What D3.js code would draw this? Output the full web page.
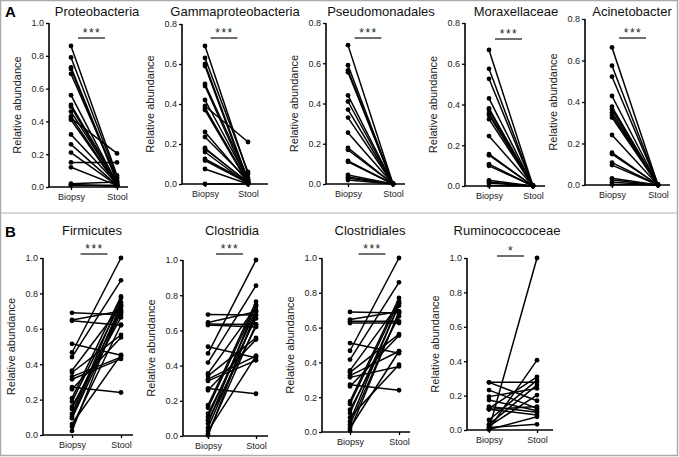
<!DOCTYPE html>
<html>
<head>
<meta charset="utf-8">
<script src="https://cdn.jsdelivr.net/npm/d3@7"></script>
<style>
  body { margin: 0; background: #fff; }
  svg { display: block; font-family: "Liberation Sans", Arial, sans-serif; }
</style>
</head>
<body>
<div id="chart"></div>
<script>
// Data, one pair of arrays per panel (biopsy value i is paired with stool value i)
const groups = ["Biopsy", "Stool"];

const proteoBiopsy = [0.86, 0.79, 0.73, 0.72, 0.69, 0.56, 0.50, 0.49, 0.46, 0.43, 0.42, 0.41, 0.32, 0.26, 0.21, 0.15, 0.12, 0.02, 0.015, 0.01];
const proteoStool  = [0.07, 0.06, 0.04, 0.03, 0.05, 0.02, 0.03, 0.01, 0.02, 0.01, 0.205, 0.01, 0.02, 0.01, 0.01, 0.15, 0.01, 0.03, 0.005, 0.01];

const gammaBiopsy = [0.69, 0.63, 0.60, 0.59, 0.50, 0.49, 0.42, 0.39, 0.38, 0.37, 0.26, 0.235, 0.18, 0.175, 0.16, 0.125, 0.117, 0.075, 0.0];
const gammaStool  = [0.05, 0.06, 0.02, 0.01, 0.03, 0.01, 0.02, 0.21, 0.01, 0.005, 0.01, 0.02, 0.005, 0.01, 0.0, 0.01, 0.005, 0.0, 0.0];

const pseudoBiopsy = [0.69, 0.59, 0.565, 0.555, 0.44, 0.41, 0.37, 0.33, 0.255, 0.18, 0.17, 0.115, 0.11, 0.045, 0.035, 0.03, 0.02];
const pseudoStool  = [0, 0, 0, 0, 0, 0, 0, 0, 0, 0, 0, 0, 0, 0, 0, 0, 0];

const moraxBiopsy = [0.668, 0.575, 0.526, 0.43, 0.381, 0.373, 0.356, 0.348, 0.328, 0.245, 0.156, 0.151, 0.107, 0.099, 0.028, 0.02, 0.015, 0.003];
const moraxStool  = [0, 0, 0, 0, 0, 0, 0, 0, 0, 0, 0, 0, 0, 0, 0, 0, 0, 0];

const acinetoBiopsy = [0.663, 0.575, 0.522, 0.429, 0.377, 0.365, 0.349, 0.337, 0.325, 0.241, 0.156, 0.149, 0.108, 0.096, 0.032, 0.024, 0.013, 0.003];
const acinetoStool  = [0, 0, 0, 0, 0, 0, 0, 0, 0, 0, 0, 0, 0, 0, 0, 0, 0, 0];

const firmiBiopsy = [0.69, 0.65, 0.645, 0.515, 0.466, 0.44, 0.364, 0.353, 0.33, 0.315, 0.27, 0.258, 0.208, 0.189, 0.16, 0.147, 0.119, 0.104, 0.094, 0.062, 0.047, 0.023];
const firmiStool  = [0.68, 0.70, 0.62, 0.45, 1.0, 0.874, 0.73, 0.566, 0.44, 0.43, 0.24, 0.551, 0.783, 0.749, 0.664, 0.708, 0.774, 0.736, 0.694, 0.453, 0.623, 0.726];

const clostBiopsy = [0.69, 0.645, 0.636, 0.63, 0.507, 0.469, 0.417, 0.355, 0.342, 0.323, 0.313, 0.27, 0.26, 0.175, 0.16, 0.127, 0.108, 0.089, 0.07, 0.046, 0.028, 0.013, 0.004];
const clostStool  = [0.687, 0.706, 0.634, 0.62, 0.444, 1.0, 0.854, 0.734, 0.558, 0.455, 0.43, 0.24, 0.548, 0.763, 0.744, 0.668, 0.715, 0.62, 0.744, 0.687, 0.455, 0.634, 0.706];

const clostaleBiopsy = [0.69, 0.646, 0.636, 0.626, 0.511, 0.467, 0.416, 0.354, 0.343, 0.324, 0.314, 0.272, 0.262, 0.176, 0.161, 0.128, 0.109, 0.084, 0.061, 0.042, 0.023, 0.008];
const clostaleStool  = [0.684, 0.693, 0.636, 0.626, 0.452, 1.0, 0.86, 0.738, 0.563, 0.464, 0.377, 0.24, 0.554, 0.77, 0.751, 0.665, 0.726, 0.387, 0.738, 0.684, 0.464, 0.693];

const rumiBiopsy = [0.277, 0.277, 0.232, 0.194, 0.174, 0.136, 0.126, 0.12, 0.12, 0.058, 0.033, 0.023, 0.015, 0.006, 0.006, 0.003];
const rumiStool  = [0.277, 0.17, 0.126, 0.242, 0.112, 0.103, 0.309, 0.087, 0.136, 0.29, 0.261, 0.203, 0.033, 1.0, 0.406, 0.077];

// Panel layout (pixel frame for each small chart)
const panels = [
  { title: "Proteobacteria", b: proteoBiopsy, s: proteoStool, max: 1.0, sig: "***",
    ax: 49, top: 23, bot: 187, bx: 71, sx: 117, end: 128, ty: 16, tx: 97, sy: 38 },
  { title: "Gammaproteobacteria", b: gammaBiopsy, s: gammaStool, max: 0.8, sig: "***",
    ax: 182, top: 24, bot: 184, bx: 205, sx: 248, end: 268, ty: 16, tx: 235, sy: 38 },
  { title: "Pseudomonadales", b: pseudoBiopsy, s: pseudoStool, max: 0.8, sig: "***",
    ax: 326, top: 23, bot: 184, bx: 348, sx: 393, end: 405, ty: 16, tx: 381, sy: 38 },
  { title: "Moraxellaceae", b: moraxBiopsy, s: moraxStool, max: 0.8, sig: "***",
    ax: 465, top: 23, bot: 186, bx: 489, sx: 533, end: 545, ty: 16, tx: 516, sy: 39 },
  { title: "Acinetobacter", b: acinetoBiopsy, s: acinetoStool, max: 0.8, sig: "***",
    ax: 585, top: 19, bot: 185, bx: 612, sx: 658, end: 670, ty: 16, tx: 632, sy: 38 },
  { title: "Firmicutes", b: firmiBiopsy, s: firmiStool, max: 1.0, sig: "***",
    ax: 43, top: 258, bot: 435, bx: 72, sx: 121, end: 133, ty: 235, tx: 92, sy: 254 },
  { title: "Clostridia", b: clostBiopsy, s: clostStool, max: 1.0, sig: "***",
    ax: 183, top: 260, bot: 436, bx: 208, sx: 256, end: 268, ty: 235, tx: 232, sy: 254 },
  { title: "Clostridiales", b: clostaleBiopsy, s: clostaleStool, max: 1.0, sig: "***",
    ax: 322, top: 258, bot: 432, bx: 350, sx: 399, end: 410, ty: 235, tx: 370, sy: 254 },
  { title: "Ruminococcoceae", b: rumiBiopsy, s: rumiStool, max: 1.0, sig: "*",
    ax: 467, top: 258, bot: 430, bx: 489, sx: 537, end: 553, ty: 235, tx: 507, sy: 256 }
];

const width = 679, height = 457;

const svg = d3.select("#chart")
  .append("svg")
  .attr("width", width)
  .attr("height", height);

// frame + separator
svg.append("rect")
  .attr("x", 0.5).attr("y", 0.5)
  .attr("width", width - 2).attr("height", height - 2)
  .attr("fill", "none")
  .attr("stroke", "#aaa")
  .attr("stroke-width", 1.5);

svg.append("line")
  .attr("x1", 1).attr("x2", width - 2)
  .attr("y1", 213).attr("y2", 213)
  .attr("stroke", "#ccc")
  .attr("stroke-width", 1.5);

svg.append("text").attr("x", 5).attr("y", 17)
  .style("font-size", "15px").style("font-weight", "bold").text("A");
svg.append("text").attr("x", 5).attr("y", 237)
  .style("font-size", "15px").style("font-weight", "bold").text("B");

panels.forEach(p => {
  const g = svg.append("g");

  const y = d3.scaleLinear().domain([0, p.max]).range([p.bot, p.top]);
  const x = d3.scaleOrdinal().domain(groups).range([p.bx, p.sx]);

  // y axis
  const yAxis = g.append("g")
    .attr("transform", `translate(${p.ax},0)`)
    .call(d3.axisLeft(y).tickValues(d3.range(0, p.max + 0.001, 0.2)).tickFormat(d3.format(".1f")).tickSize(3).tickPadding(2));
  yAxis.select(".domain").attr("stroke", "#000").attr("stroke-width", 1.6).attr("d", `M0,${p.top}V${p.bot}`);
  yAxis.selectAll(".tick line").attr("stroke", "#000").attr("stroke-width", 1.3);
  yAxis.selectAll("text").style("font-size", "9px").attr("fill", "#222").style("font-family", "inherit");

  // x axis
  const xAxis = g.append("g")
    .attr("transform", `translate(0,${p.bot})`)
    .call(d3.axisBottom(x).tickSize(3).tickPadding(4));
  xAxis.select(".domain").attr("stroke", "#000").attr("stroke-width", 1.6).attr("d", `M${p.ax},0H${p.end}`);
  xAxis.selectAll(".tick line").attr("stroke", "#000").attr("stroke-width", 1.3);
  xAxis.selectAll("text").style("font-size", "9px").attr("fill", "#222").style("font-family", "inherit");

  // y label
  g.append("text")
    .attr("transform", `translate(${p.ax - 28},${(p.top + p.bot) / 2}) rotate(-90)`)
    .attr("text-anchor", "middle")
    .style("font-size", "11px")
    .attr("fill", "#222")
    .text("Relative abundance");

  // title
  g.append("text")
    .attr("x", p.tx)
    .attr("y", p.ty)
    .attr("text-anchor", "middle")
    .style("font-size", "13px")
    .attr("fill", "#111")
    .text(p.title);

  // significance bar
  const mid = (p.bx + p.sx) / 2 - 2;
  g.append("line")
    .attr("x1", mid - 14).attr("x2", mid + 13)
    .attr("y1", p.sy).attr("y2", p.sy)
    .attr("stroke", "#222").attr("stroke-width", 1.3);
  g.append("text")
    .attr("x", mid)
    .attr("y", p.sy - 1)
    .attr("text-anchor", "middle")
    .style("font-size", "12px")
    .style("letter-spacing", "1.5px")
    .attr("fill", "#222")
    .text(p.sig);

  // paired lines
  const pairs = p.b.map((v, i) => [v, p.s[i]]);
  g.selectAll(".pair")
    .data(pairs)
    .enter()
    .append("line")
    .attr("x1", x("Biopsy")).attr("x2", x("Stool"))
    .attr("y1", d => y(d[0])).attr("y2", d => y(d[1]))
    .attr("stroke", "#000")
    .attr("stroke-width", 1.5);

  // points
  g.selectAll(".bp")
    .data(p.b)
    .enter()
    .append("circle")
    .attr("cx", x("Biopsy")).attr("cy", d => y(d))
    .attr("r", 2.4).attr("fill", "#000");
  g.selectAll(".sp")
    .data(p.s)
    .enter()
    .append("circle")
    .attr("cx", x("Stool")).attr("cy", d => y(d))
    .attr("r", 2.4).attr("fill", "#000");
});
</script>
</body>
</html>
